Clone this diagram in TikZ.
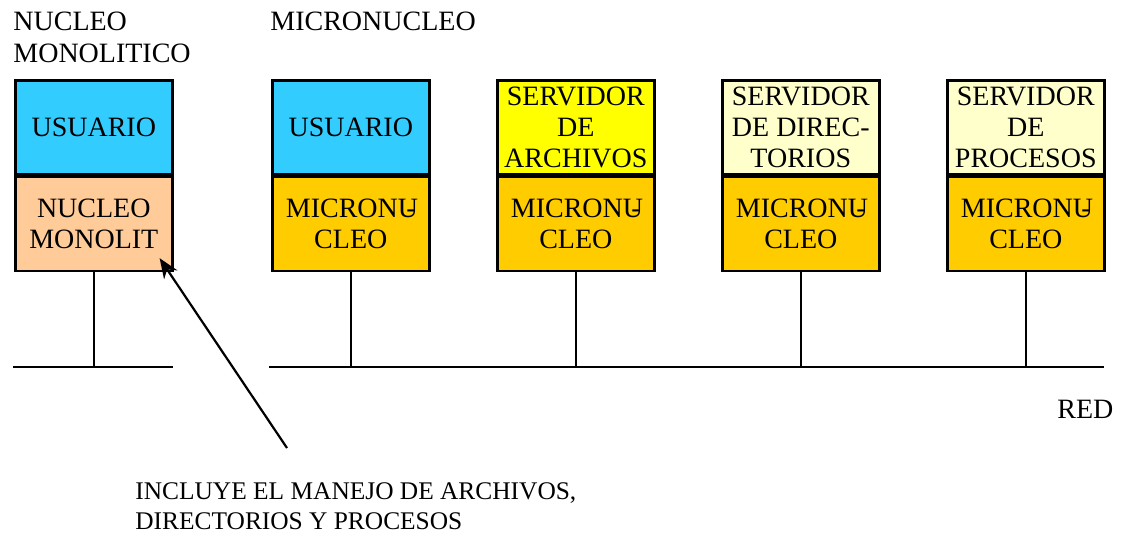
\documentclass[tikz,border=0pt]{standalone}
\usepackage{fontspec}
\setmainfont{Liberation Serif}
\usepackage{tikz}
\usetikzlibrary{arrows.meta, positioning}

\definecolor{azul}{HTML}{33CCFF}
\definecolor{durazno}{HTML}{FFCC99}
\definecolor{naranja}{HTML}{FFCC00}
\definecolor{amarillo}{HTML}{FFFF00}
\definecolor{crema}{HTML}{FFFFCC}

\begin{document}
\begin{tikzpicture}[x=0.5pt, y=-0.5pt,
        capa/.style={rectangle, draw=black, line width=1.3pt, minimum width=78.5pt, minimum height=47pt, inner sep=0pt, align=center, font=\fontsize{14}{15.5}\selectfont},
        titulo/.style={anchor=base west, inner sep=0pt, font=\fontsize{14}{15.5}\selectfont},
        red/.style={line width=1.1pt}
    ]
        \useasboundingbox (0,0) rectangle (1121,537);

        % ================= NUCLEO MONOLITICO =================
        \node[titulo] (t1) at (13,30) {NUCLEO};
        \node[titulo] (t2) at (13,62) {MONOLITICO};

        \node[capa, fill=azul, anchor=north west] (usr1) at (14,79) {USUARIO};
        \node[capa, fill=durazno, below=0pt of usr1] (mono) {NUCLEO\\MONOLIT};

        \coordinate (r1a) at (13,367);
        \coordinate (r1b) at (173,367);
        \draw[red] (r1a) -- (r1b);
        \draw[red] (mono.south) -- (mono.south |- r1a);

        % ================= MICRONUCLEO =================
        \node[titulo] (t3) at (270,30) {MICRONUCLEO};

        \node[capa, fill=azul, anchor=north west] (usr2) at (271,79) {USUARIO};
        \node[capa, fill=amarillo, anchor=north west] (arch) at (496,79) {SERVIDOR\\DE\\ARCHIVOS};
        \node[capa, fill=crema, anchor=north west] (dir) at (721,79) {SERVIDOR\\DE DIREC-\\TORIOS};
        \node[capa, fill=crema, anchor=north west] (proc) at (946,79) {SERVIDOR\\DE\\PROCESOS};

        \foreach \s/\m in {usr2/mic1, arch/mic2, dir/mic3, proc/mic4}
            \node[capa, fill=naranja, below=0pt of \s] (\m) {MICRONU\kern-0.42em-\\CLEO};

        \coordinate (r2a) at (269,367);
        \coordinate (r2b) at (1104,367);
        \draw[red] (r2a) -- (r2b);
        \foreach \m in {mic1, mic2, mic3, mic4}
            \draw[red] (\m.south) -- (\m.south |- r2a);

        \node[titulo] (rotred) at (1057,418) {RED};

        % Nota con flecha
        \node[anchor=north west, inner sep=0pt, align=left, font=\fontsize{12.7}{15}\selectfont] (nota) at (135,482) {INCLUYE EL MANEJO DE ARCHIVOS,\\DIRECTORIOS Y PROCESOS};
        \coordinate (cola) at (287,448);
        \draw[-{Stealth[length=10pt, width=8pt]}, line width=1.1pt] (cola) -- ([shift={(-14,-14)}]mono.south east);
    \end{tikzpicture}
\end{document}
